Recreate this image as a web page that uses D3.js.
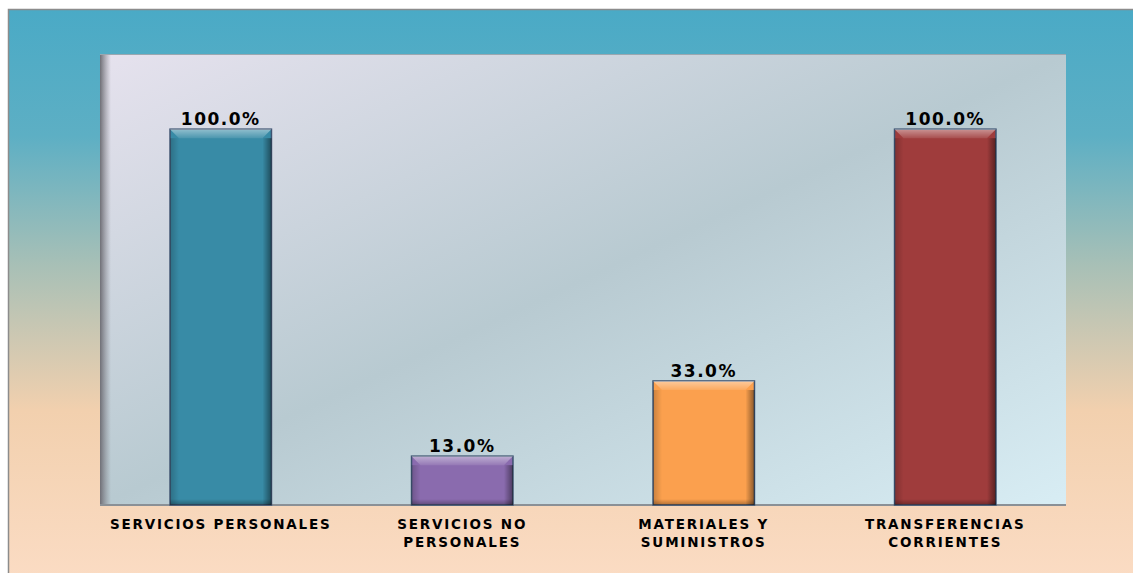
<!DOCTYPE html>
<html>
<head>
<meta charset="utf-8">
<script src="https://cdn.jsdelivr.net/npm/d3@7"></script>
<style>
  html, body { margin: 0; padding: 0; background: #fff; }
  svg { display: block; }
  text { font-family: "DejaVu Sans", Verdana, sans-serif; font-weight: bold; }
</style>
</head>
<body>
<div id="chart"></div>
<script>
// data
const categories = [
  ["SERVICIOS PERSONALES"],
  ["SERVICIOS NO", "PERSONALES"],
  ["MATERIALES Y", "SUMINISTROS"],
  ["TRANSFERENCIAS", "CORRIENTES"]
];
const values = [100.0, 13.0, 33.0, 100.0];
const barColors = ["#388ba6", "#8a6bae", "#fba04e", "#9f3c3c"];

const W = 1133, H = 573;
const plot = { left: 100, right: 1066, top: 54, bottom: 505 };

const svg = d3.select("#chart").append("svg")
  .attr("width", W)
  .attr("height", H);

const defs = svg.append("defs");

// outer background gradient (teal -> peach)
const outerGrad = defs.append("linearGradient")
  .attr("id", "outerGrad")
  .attr("x1", 0).attr("y1", 0).attr("x2", 0).attr("y2", 1);
outerGrad.append("stop").attr("offset", "0%").attr("stop-color", "#4aaac6");
outerGrad.append("stop").attr("offset", "22%").attr("stop-color", "#5dafc4");
outerGrad.append("stop").attr("offset", "45%").attr("stop-color", "#a9c0b6");
outerGrad.append("stop").attr("offset", "70%").attr("stop-color", "#f2d0ae");
outerGrad.append("stop").attr("offset", "100%").attr("stop-color", "#fbdcc4");

// plot area gradient (diagonal)
const plotGrad = defs.append("linearGradient")
  .attr("id", "plotGrad")
  .attr("x1", 0).attr("y1", 0).attr("x2", 1).attr("y2", 1);
plotGrad.append("stop").attr("offset", "0%").attr("stop-color", "#e6e2ee");
plotGrad.append("stop").attr("offset", "50%").attr("stop-color", "#b8cad1");
plotGrad.append("stop").attr("offset", "100%").attr("stop-color", "#d8edf4");

// left wall shadow
const wallGrad = defs.append("linearGradient")
  .attr("id", "wallGrad")
  .attr("x1", 0).attr("y1", 0).attr("x2", 1).attr("y2", 0);
wallGrad.append("stop").attr("offset", "0%").attr("stop-color", "#6f6f76").attr("stop-opacity", 1);
wallGrad.append("stop").attr("offset", "100%").attr("stop-color", "#8a8a92").attr("stop-opacity", 0);

// bevel overlays
const hlGrad = defs.append("linearGradient")
  .attr("id", "hlGrad")
  .attr("x1", 0).attr("y1", 0).attr("x2", 0).attr("y2", 1);
hlGrad.append("stop").attr("offset", "0%").attr("stop-color", "#fff").attr("stop-opacity", 0.45);
hlGrad.append("stop").attr("offset", "100%").attr("stop-color", "#fff").attr("stop-opacity", 0.1);

const rightShade = defs.append("linearGradient")
  .attr("id", "rightShade")
  .attr("x1", 0).attr("y1", 0).attr("x2", 1).attr("y2", 0);
rightShade.append("stop").attr("offset", "0%").attr("stop-color", "#000").attr("stop-opacity", 0);
rightShade.append("stop").attr("offset", "100%").attr("stop-color", "#000").attr("stop-opacity", 0.45);

const leftShade = defs.append("linearGradient")
  .attr("id", "leftShade")
  .attr("x1", 0).attr("y1", 0).attr("x2", 1).attr("y2", 0);
leftShade.append("stop").attr("offset", "0%").attr("stop-color", "#000").attr("stop-opacity", 0.2);
leftShade.append("stop").attr("offset", "100%").attr("stop-color", "#000").attr("stop-opacity", 0);

const botShade = defs.append("linearGradient")
  .attr("id", "botShade")
  .attr("x1", 0).attr("y1", 0).attr("x2", 0).attr("y2", 1);
botShade.append("stop").attr("offset", "0%").attr("stop-color", "#000").attr("stop-opacity", 0);
botShade.append("stop").attr("offset", "100%").attr("stop-color", "#000").attr("stop-opacity", 0.3);

// outer chart area
svg.append("rect")
  .attr("x", 8.5).attr("y", 9.5)
  .attr("width", W).attr("height", H)
  .attr("fill", "url(#outerGrad)")
  .attr("stroke", "#8c8c8c")
  .attr("stroke-width", 1.5);

// plot area
svg.append("rect")
  .attr("x", plot.left).attr("y", plot.top)
  .attr("width", plot.right - plot.left)
  .attr("height", plot.bottom - plot.top)
  .attr("fill", "url(#plotGrad)");

svg.append("rect")
  .attr("x", plot.left).attr("y", plot.top)
  .attr("width", 11)
  .attr("height", plot.bottom - plot.top)
  .attr("fill", "url(#wallGrad)");

svg.append("line")
  .attr("x1", plot.left).attr("x2", plot.right)
  .attr("y1", plot.top + 0.5).attr("y2", plot.top + 0.5)
  .attr("stroke", "#9aa7b0").attr("stroke-width", 1);

svg.append("line")
  .attr("x1", plot.left).attr("x2", plot.right)
  .attr("y1", plot.bottom).attr("y2", plot.bottom)
  .attr("stroke", "#8a9096").attr("stroke-width", 2);

// scales
const x = d3.scaleBand()
  .domain(d3.range(values.length))
  .range([plot.left, plot.right])
  .paddingInner(0.58)
  .paddingOuter(0.29);

const y = d3.scaleLinear()
  .domain([0, 120])
  .range([plot.bottom, plot.top]);

const bw = x.bandwidth();
const bars = svg.append("g").selectAll("g.bar")
  .data(values)
  .join("g")
  .attr("class", "bar");

bars.append("rect")
  .attr("x", (d, i) => x(i))
  .attr("y", d => y(d))
  .attr("width", bw)
  .attr("height", d => y(0) - y(d))
  .attr("fill", (d, i) => barColors[i])
  .attr("stroke", "#3d5270")
  .attr("stroke-width", 1.5);

// bevel: top highlight, side and bottom shading
bars.each(function(d, i) {
  const g = d3.select(this);
  const x0 = x(i), x1 = x(i) + bw, t = y(d), b = y(0), e = 9;
  g.append("path")
    .attr("d", `M${x0},${t}L${x1},${t}L${x1 - e},${t + e}L${x0 + e},${t + e}Z`)
    .attr("fill", "url(#hlGrad)");
  g.append("rect")
    .attr("x", x1 - e).attr("y", t + e)
    .attr("width", e).attr("height", Math.max(0, b - t - e))
    .attr("fill", "url(#rightShade)");
  g.append("rect")
    .attr("x", x0).attr("y", t + e)
    .attr("width", e).attr("height", Math.max(0, b - t - e))
    .attr("fill", "url(#leftShade)");
  g.append("rect")
    .attr("x", x0).attr("y", b - 6)
    .attr("width", bw).attr("height", 6)
    .attr("fill", "url(#botShade)");
});

// value labels
svg.append("g").selectAll("text")
  .data(values)
  .join("text")
  .attr("x", (d, i) => x(i) + bw / 2)
  .attr("y", d => y(d) - 4)
  .attr("text-anchor", "middle")
  .attr("font-size", "17px")
  .attr("letter-spacing", "1.5px")
  .attr("fill", "#000")
  .text(d => d3.format(".1f")(d) + "%");

// category labels
const catG = svg.append("g").selectAll("text")
  .data(categories)
  .join("text")
  .attr("x", (d, i) => x(i) + bw / 2)
  .attr("y", 529)
  .attr("text-anchor", "middle")
  .attr("font-size", "13.5px")
  .attr("letter-spacing", "1.8px")
  .attr("fill", "#000");

catG.selectAll("tspan")
  .data(d => d)
  .join("tspan")
  .attr("x", function() { return d3.select(this.parentNode).attr("x"); })
  .attr("dy", (d, i) => i === 0 ? 0 : 18)
  .text(d => d);
</script>
</body>
</html>
